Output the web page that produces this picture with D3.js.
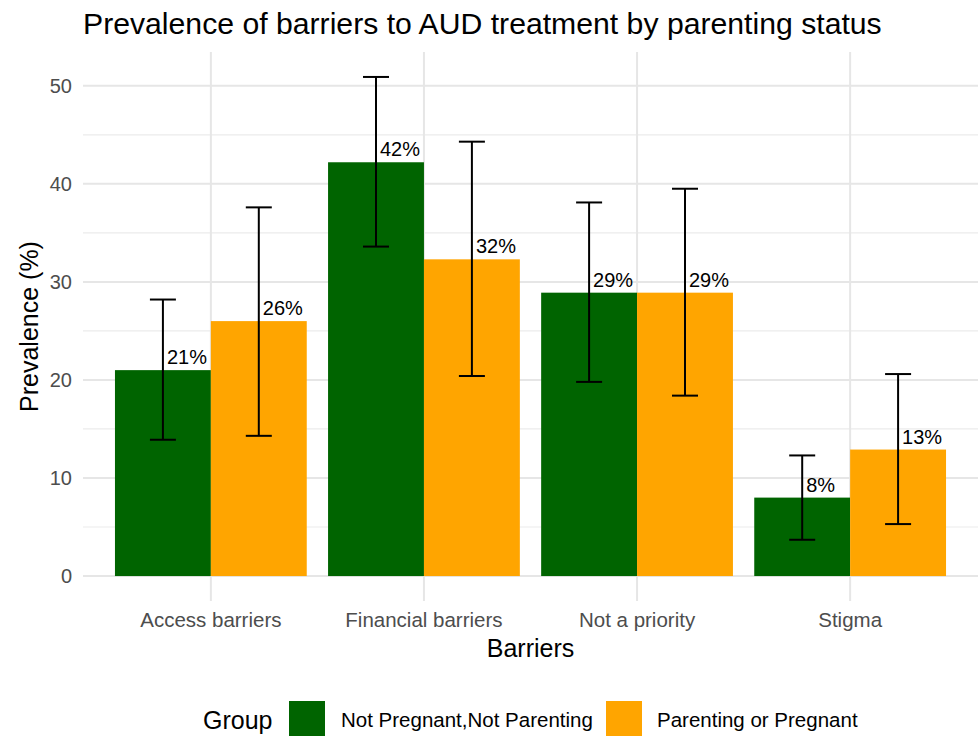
<!DOCTYPE html>
<html>
<head>
<meta charset="utf-8">
<script src="https://cdn.jsdelivr.net/npm/d3@7"></script>
<style>
  body { margin: 0; background: #fff; }
  svg { font-family: "Liberation Sans", Arial, sans-serif; }
</style>
</head>
<body>
<svg width="979" height="736"></svg>
<script>
// Categories and groups
const barriers = ["Access barriers", "Financial barriers", "Not a priority", "Stigma"];
const groups = ["Not Pregnant,Not Parenting", "Parenting or Pregnant"];
const groupColors = ["#006400", "#FFA500"];

// Prevalence (%) per barrier, one array per group
const notParenting = [21.0, 42.2, 28.9, 8.0];
const parenting = [26.0, 32.3, 28.9, 12.9];

// Confidence interval bounds
const notParentingLow = [13.9, 33.6, 19.8, 3.7];
const notParentingHigh = [28.2, 50.9, 38.1, 12.3];
const parentingLow = [14.3, 20.4, 18.4, 5.3];
const parentingHigh = [37.6, 44.3, 39.5, 20.6];

const yTicks = [0, 10, 20, 30, 40, 50];
const yMinor = [5, 15, 25, 35, 45];

// Build rows for drawing
const rows = [];
barriers.forEach((b, i) => {
  rows.push({ barrier: b, group: groups[0], value: notParenting[i], low: notParentingLow[i], high: notParentingHigh[i] });
  rows.push({ barrier: b, group: groups[1], value: parenting[i], low: parentingLow[i], high: parentingHigh[i] });
});

const svg = d3.select("svg");
const panel = { left: 83, right: 978, top: 52, bottom: 601 };

// Scales
const x = d3.scaleBand()
  .domain(barriers)
  .range([panel.left, panel.right])
  .paddingInner(0.1)
  .paddingOuter(0.15);

const xSub = d3.scaleBand()
  .domain(groups)
  .range([0, x.bandwidth()])
  .padding(0);

const yMax = d3.max(rows, d => d.high);
const yPad = yMax * 0.05;
const y = d3.scaleLinear()
  .domain([-yPad, yMax + yPad])
  .range([panel.bottom, panel.top]);

const color = d3.scaleOrdinal().domain(groups).range(groupColors);

// Grid lines
const grid = svg.append("g");
grid.selectAll(".minor")
  .data(yMinor)
  .enter()
  .append("line")
  .attr("x1", panel.left).attr("x2", panel.right)
  .attr("y1", d => y(d)).attr("y2", d => y(d))
  .attr("stroke", "#ebebeb").attr("stroke-width", 1.2);

grid.selectAll(".major")
  .data(yTicks)
  .enter()
  .append("line")
  .attr("x1", panel.left).attr("x2", panel.right)
  .attr("y1", d => y(d)).attr("y2", d => y(d))
  .attr("stroke", "#e6e6e6").attr("stroke-width", 2);

grid.selectAll(".vmajor")
  .data(barriers)
  .enter()
  .append("line")
  .attr("x1", d => x(d) + x.bandwidth() / 2).attr("x2", d => x(d) + x.bandwidth() / 2)
  .attr("y1", panel.top).attr("y2", panel.bottom)
  .attr("stroke", "#e6e6e6").attr("stroke-width", 2);

// Bars
svg.append("g")
  .selectAll("rect")
  .data(rows)
  .enter()
  .append("rect")
  .attr("x", d => x(d.barrier) + xSub(d.group))
  .attr("width", xSub.bandwidth())
  .attr("y", d => y(d.value))
  .attr("height", d => y(0) - y(d.value))
  .attr("fill", d => color(d.group));

// Error bars
const capHalf = 13;
const err = svg.append("g")
  .attr("stroke", "#000")
  .attr("stroke-width", 2);

rows.forEach(d => {
  const cx = x(d.barrier) + xSub(d.group) + xSub.bandwidth() / 2;
  err.append("line").attr("x1", cx).attr("x2", cx).attr("y1", y(d.low)).attr("y2", y(d.high));
  err.append("line").attr("x1", cx - capHalf).attr("x2", cx + capHalf).attr("y1", y(d.low)).attr("y2", y(d.low));
  err.append("line").attr("x1", cx - capHalf).attr("x2", cx + capHalf).attr("y1", y(d.high)).attr("y2", y(d.high));
});

// Value labels
svg.append("g")
  .selectAll("text")
  .data(rows)
  .enter()
  .append("text")
  .attr("x", d => x(d.barrier) + xSub(d.group) + xSub.bandwidth() / 2 + 4)
  .attr("y", d => y(d.value) - 6)
  .attr("font-size", 20)
  .attr("fill", "#000")
  .text(d => Math.round(d.value) + "%");

// Y axis tick labels
svg.append("g")
  .selectAll("text")
  .data(yTicks)
  .enter()
  .append("text")
  .attr("x", 72)
  .attr("y", d => y(d))
  .attr("dy", "0.35em")
  .attr("text-anchor", "end")
  .attr("font-size", 20)
  .attr("fill", "#4d4d4d")
  .text(d => d);

// X axis tick labels
svg.append("g")
  .selectAll("text")
  .data(barriers)
  .enter()
  .append("text")
  .attr("x", d => x(d) + x.bandwidth() / 2)
  .attr("y", 627)
  .attr("text-anchor", "middle")
  .attr("font-size", 20.5)
  .attr("fill", "#4d4d4d")
  .text(d => d);

// Axis titles
svg.append("text")
  .attr("x", (panel.left + panel.right) / 2)
  .attr("y", 657)
  .attr("text-anchor", "middle")
  .attr("font-size", 25)
  .text("Barriers");

svg.append("text")
  .attr("transform", `translate(38,${(panel.top + panel.bottom) / 2}) rotate(-90)`)
  .attr("text-anchor", "middle")
  .attr("font-size", 25)
  .text("Prevalence (%)");

// Title
svg.append("text")
  .attr("x", 83)
  .attr("y", 34)
  .attr("font-size", 30.2)
  .text("Prevalence of barriers to AUD treatment by parenting status");

// Legend
const legend = svg.append("g");
legend.append("text")
  .attr("x", 203)
  .attr("y", 729)
  .attr("font-size", 25)
  .text("Group");

const keyX = [289, 606];
const labelX = [341, 657];
groups.forEach((g, i) => {
  legend.append("rect")
    .attr("x", keyX[i]).attr("y", 701)
    .attr("width", 36).attr("height", 35)
    .attr("fill", color(g));
  legend.append("text")
    .attr("x", labelX[i]).attr("y", 727)
    .attr("font-size", 20.5)
    .text(g);
});
</script>
</body>
</html>
